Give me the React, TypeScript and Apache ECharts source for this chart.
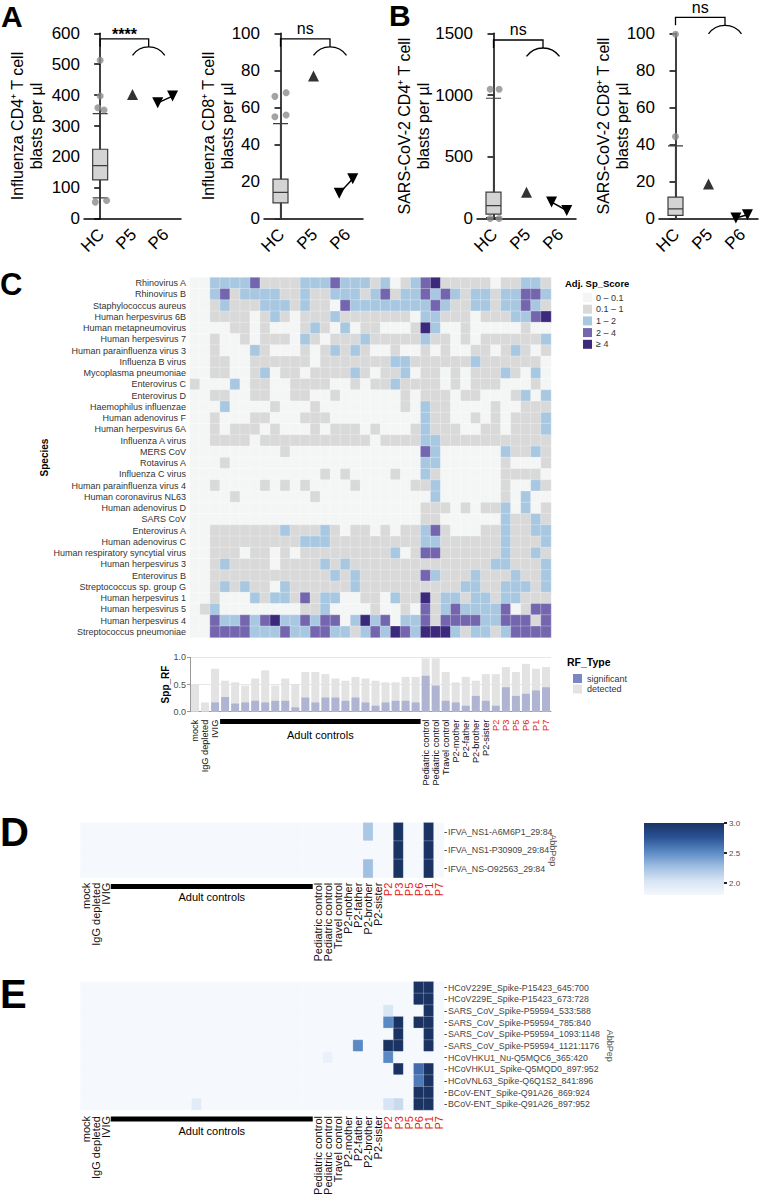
import React, { useEffect, useRef } from "react";
import * as echarts from "echarts";

const FONT = "Liberation Sans, Arial, Helvetica, sans-serif";
const NARROW = "Liberation Sans Narrow, Liberation Sans, Arial, sans-serif";

// ---------- Panels A / B ----------
const groups = ["HC", "P5", "P6"];

const fluCD4Box = [68, 126, 172, 225, 340];
const fluCD4Out = [[0, 513], [0, 397], [-0.07, 359], [0.12, 352], [-0.15, 54], [0.2, 59]];
const fluCD4P5 = [402];
const fluCD4P6 = [[-0.22, 375], [0.24, 397]];

const fluCD8Box = [0, 8.6, 14.2, 21.4, 51.3];
const fluCD8Out = [[-0.17, 66], [0.17, 68], [-0.17, 55], [0.17, 56]];
const fluCD8P5 = [77];
const fluCD8P6 = [[-0.22, 13.8], [0.19, 21.6]];

const covCD4Box = [10, 38, 107, 215, 975];
const covCD4Out = [[-0.1, 1047], [0.17, 1047], [-0.1, 2], [0.17, 2]];
const covCD4P5 = [215];
const covCD4P6 = [[-0.24, 135], [0.22, 67]];

const covCD8Box = [0, 1.8, 5.4, 11.7, 39.3];
const covCD8Out = [[0, 99.5], [0, 44.3]];
const covCD8P5 = [18.7];
const covCD8P6 = [[-0.17, 0.4], [0.18, 2.2]];

// ---------- Panel C ----------
const species = [
  "Rhinovirus A", "Rhinovirus B", "Staphylococcus aureus", "Human herpesvirus 6B",
  "Human metapneumovirus", "Human herpesvirus 7", "Human parainfluenza virus 3",
  "Influenza B virus", "Mycoplasma pneumoniae", "Enterovirus C", "Enterovirus D",
  "Haemophilus influenzae", "Human adenovirus F", "Human herpesvirus 6A",
  "Influenza A virus", "MERS CoV", "Rotavirus A", "Influenza C virus",
  "Human parainfluenza virus 4", "Human coronavirus NL63", "Human adenovirus D",
  "SARS CoV", "Enterovirus A", "Human adenovirus C", "Human respiratory syncytial virus",
  "Human herpesvirus 3", "Enterovirus B", "Streptococcus sp. group G",
  "Human herpesvirus 1", "Human herpesvirus 5", "Human herpesvirus 4",
  "Streptococcus pneumoniae",
];

const sampleLabels = [
  "mock", "IgG depleted", "IVIG",
  "", "", "", "", "", "", "", "", "", "", "", "", "", "", "", "", "", "", "", "",
  "Pediatric control", "Pediatric control", "Travel control", "P2-mother", "P2-father",
  "P2-brother", "P2-sister", "P2", "P3", "P5", "P6", "P1", "P7",
];
const firstPatientCol = 30;
const sampleIds = sampleLabels.map((_, i) => "s" + i);

// Adj. Sp_Score bins: 0 "0-0.1", 1 "0.1-1", 2 "1-2", 3 "2-4", 4 ">=4"
const scoreBins = ["0 – 0.1", "0.1 – 1", "1 – 2", "2 – 4", "≥ 4"];
const scoreColors = ["#f4f6f6", "#d9d9d9", "#a8c8e2", "#7466ae", "#3b2a7b"];

const adjSpScore = [
  [0,0,2,2,2,2,3,1,1,1,1,2,2,2,3,2,2,2, 1,2,0,1,2,3,4,1,1,1,1,1,0,1,1,2,2,1],
  [0,0,2,3,1,2,2,2,2,1,1,2,1,1,2,2,2,1, 2,3,1,2,2,3,2,3,2,1,2,2,1,2,2,3,3,2],
  [0,0,1,2,1,1,1,2,2,2,1,2,1,1,0,3,2,2, 2,2,2,2,2,2,3,2,1,1,2,2,1,2,2,3,2,1],
  [0,0,1,1,1,1,0,1,2,1,0,1,1,1,2,1,1,1, 1,1,1,1,0,2,2,1,1,1,0,1,1,1,2,2,3,4],
  [0,0,0,0,1,1,0,1,0,0,0,1,2,1,0,2,0,1, 1,0,0,0,1,4,2,0,0,1,0,0,0,0,0,1,0,0],
  [0,0,1,0,0,1,0,1,1,1,0,2,1,0,1,1,1,2, 1,1,1,1,1,2,1,1,0,1,0,1,1,1,1,1,1,2],
  [0,0,1,0,0,0,2,1,0,0,0,1,0,1,2,1,2,1, 0,0,1,0,0,1,0,1,0,0,1,1,0,1,2,1,0,1],
  [0,0,1,1,0,0,1,1,1,1,1,1,0,1,1,1,1,1, 1,1,2,2,1,1,1,1,1,1,2,1,1,1,1,1,1,0],
  [0,0,1,1,0,0,1,2,0,1,1,0,1,1,1,1,2,1, 0,1,1,2,0,1,1,0,1,0,1,1,1,2,1,0,2,0],
  [1,0,0,0,2,0,1,1,0,0,1,1,1,1,0,0,1,0, 1,1,2,1,1,1,1,0,1,0,1,1,1,0,0,0,1,0],
  [0,0,1,1,0,0,1,1,0,0,1,1,0,0,1,0,0,0, 0,0,0,1,0,1,1,1,0,1,1,0,0,0,1,2,0,2],
  [0,0,0,2,0,0,0,0,1,0,0,0,1,0,0,0,0,0, 0,0,0,1,0,2,1,1,0,0,0,0,1,0,0,1,1,1],
  [0,0,1,0,0,0,1,1,0,0,0,1,1,1,0,0,0,0, 0,0,0,0,0,2,1,1,0,0,1,0,1,0,1,1,1,2],
  [0,0,1,0,1,1,1,0,1,0,0,0,1,0,1,1,1,0, 1,0,0,0,1,2,1,1,1,0,0,1,1,0,1,1,1,2],
  [0,0,1,1,1,1,0,1,1,1,1,1,1,1,1,1,1,1, 0,1,1,1,1,2,2,1,1,1,1,1,1,1,1,1,1,1],
  [0,0,0,0,0,0,0,0,0,1,0,0,0,0,0,0,0,0, 0,0,0,0,0,3,2,0,0,0,0,0,0,2,1,1,2,1],
  [0,0,0,1,0,0,0,0,0,0,0,0,0,0,0,0,0,0, 0,0,0,0,0,2,2,0,0,0,0,0,0,1,0,0,0,1],
  [0,0,0,0,0,0,0,0,0,0,0,0,0,1,0,1,0,0, 0,0,1,0,0,2,1,0,0,0,0,0,0,1,1,1,1,0],
  [0,0,1,0,0,0,0,1,0,1,0,1,0,0,0,0,1,0, 0,0,0,0,1,1,2,0,0,0,0,0,0,1,0,0,2,1],
  [0,0,0,0,1,0,0,0,0,0,0,0,1,0,0,0,0,0, 0,0,0,0,0,0,2,0,0,0,0,0,0,1,0,2,0,0],
  [0,0,0,0,0,0,0,0,0,0,0,0,0,0,0,0,0,0, 0,0,0,0,0,1,1,1,0,1,0,1,1,2,0,2,0,1],
  [0,0,0,0,0,0,0,0,0,0,0,0,0,0,0,0,0,0, 0,0,0,0,0,1,1,0,0,0,0,0,0,2,1,1,2,1],
  [0,0,1,1,1,1,1,1,1,2,1,1,1,2,1,0,1,1, 0,1,0,1,1,2,3,1,0,0,0,1,1,2,1,1,2,2],
  [0,0,1,1,1,1,1,1,1,1,1,2,2,2,1,1,1,1, 1,1,1,1,1,2,2,1,1,1,1,1,1,2,1,1,1,2],
  [0,0,1,1,1,0,1,1,0,1,0,1,1,1,1,1,1,1, 1,1,2,0,1,3,3,1,1,1,1,1,1,2,1,1,2,1],
  [0,0,1,2,1,1,1,1,0,1,1,1,1,2,1,2,1,1, 1,1,1,1,1,1,1,1,1,1,1,1,2,2,1,1,1,2],
  [0,0,1,1,1,1,1,1,1,1,1,1,1,1,2,1,2,1, 1,1,1,1,1,3,2,1,1,1,2,1,1,1,2,1,1,2],
  [0,0,1,2,1,2,1,1,0,2,1,1,1,1,1,1,2,1, 1,1,1,1,1,1,1,1,1,2,2,1,1,2,2,2,1,2],
  [0,0,1,0,0,0,2,1,2,2,1,3,1,2,2,0,0,1, 1,0,2,1,1,4,1,2,2,1,2,2,1,2,2,1,1,1],
  [0,1,2,0,0,0,0,0,0,0,0,1,1,2,0,0,0,0, 1,0,0,1,0,3,1,2,3,2,2,2,2,3,0,1,3,3],
  [0,0,3,2,2,3,2,3,4,2,2,3,2,3,3,0,2,4, 2,3,0,2,2,3,1,3,3,3,3,2,2,3,3,3,1,3],
  [0,0,3,3,3,3,2,2,2,3,2,2,3,3,2,2,1,2, 3,2,4,3,2,4,4,4,2,1,2,2,1,2,3,3,3,3],
];

const detectedRF = [0.5, 0.17, 0.79, 0.57, 0.54, 0.48, 0.61, 0.76, 0.48, 0.61, 0.51, 0.73, 0.73, 0.69, 0.61, 0.57, 0.64, 0.61, 0.57,
  0.54, 0.54, 0.64, 0.64, 0.98, 0.98, 0.73, 0.54, 0.64, 0.57, 0.69, 0.69, 0.82, 0.73, 0.88, 0.79, 0.82];
const significantRF = [0, 0, 0.17, 0.27, 0.15, 0.17, 0.2, 0.17, 0.2, 0.2, 0.08, 0.26, 0.17, 0.26, 0.26, 0.2, 0.26, 0.17, 0.11,
  0.17, 0.2, 0.2, 0.17, 0.66, 0.48, 0.2, 0.17, 0.11, 0.29, 0.2, 0.11, 0.45, 0.29, 0.33, 0.39, 0.45];

// ---------- Panels D / E ----------
const abbBase = 1.8;
const blues = ["#f5f8fd", "#d6e4f3", "#9dbde0", "#5a89c4", "#2a5294", "#1a3363"];
const dPeptides = ["IFVA_NS1-A6M6P1_29:84", "IFVA_NS1-P30909_29:84", "IFVA_NS-O92563_29:84"];
const dCells = [
  [0, 28, 2.22], [0, 31, 3.0], [0, 34, 3.0],
  [1, 31, 3.0], [1, 34, 3.0],
  [2, 28, 2.26], [2, 31, 3.0], [2, 34, 3.0],
];
const ePeptides = [
  "HCoV229E_Spike-P15423_645:700", "HCoV229E_Spike-P15423_673:728", "SARS_CoV_Spike-P59594_533:588",
  "SARS_CoV_Spike-P59594_785:840", "SARS_CoV_Spike-P59594_1093:1148", "SARS_CoV_Spike-P59594_1121:1176",
  "HCoVHKU1_Nu-Q5MQC6_365:420", "HCoVHKU1_Spike-Q5MQD0_897:952", "HCoVNL63_Spike-Q6Q1S2_841:896",
  "BCoV-ENT_Spike-Q91A26_869:924", "BCoV-ENT_Spike-Q91A26_897:952",
];
const eCells = [
  [0, 33, 3.0], [0, 34, 3.0],
  [1, 33, 3.0], [1, 34, 3.0],
  [2, 30, 2.02], [2, 34, 3.0],
  [3, 30, 2.52], [3, 31, 3.0], [3, 33, 3.0], [3, 34, 3.0],
  [4, 31, 3.0], [4, 34, 3.0],
  [5, 27, 2.52], [5, 30, 3.0], [5, 31, 3.0], [5, 34, 3.0],
  [6, 24, 1.88], [6, 30, 2.52],
  [7, 31, 3.0], [7, 33, 2.64], [7, 34, 3.0],
  [8, 33, 2.58], [8, 34, 3.0],
  [9, 33, 3.0], [9, 34, 3.0],
  [10, 11, 1.95], [10, 30, 2.04], [10, 31, 2.1], [10, 33, 3.0], [10, 34, 3.0],
];

// ---------- layout ----------
const boxPanels = [
  { box: fluCD4Box, out: fluCD4Out, p5: fluCD4P5, p6: fluCD4P6, max: 600, interval: 100,
    name: "Influenza CD4⁺ T cell\nblasts per µl", left: 84, width: 97, nameGap: 38, sig: "****", sigY: 582 },
  { box: fluCD8Box, out: fluCD8Out, p5: fluCD8P5, p6: fluCD8P6, max: 100, interval: 20,
    name: "Influenza CD8⁺ T cell\nblasts per µl", left: 264, width: 99, nameGap: 27, sig: "ns", sigY: 97 },
  { box: covCD4Box, out: covCD4Out, p5: covCD4P5, p6: covCD4P6, max: 1500, interval: 500,
    name: "SARS-CoV-2 CD4⁺ T cell\nblasts per µl", left: 477, width: 99, nameGap: 44, sig: "ns", sigY: 1446 },
  { box: covCD8Box, out: covCD8Out, p5: covCD8P5, p6: covCD8P6, max: 100, interval: 20,
    name: "SARS-CoV-2 CD8⁺ T cell\nblasts per µl", left: 659, width: 99, nameGap: 27, sig: "ns", sigY: 108.6 },
];
const BOX_TOP = 33.3, BOX_H = 185.5;
const C_GRID = { left: 190, top: 277.5, width: 361, height: 360 };
const BAR_GRID = { left: 190, top: 657.3, width: 361, height: 54.4 };
const D_GRID = { left: 80.5, top: 822.7, width: 363.5, height: 55 };
const E_GRID = { left: 80.5, top: 981.7, width: 363.5, height: 128.3 };

const labelColor = (_v: any, i: number) => (i >= firstPatientCol ? "#e41a1c" : "#111");
const labelFmt = (_v: any, i: number) => sampleLabels[i];

function fullGrid(rows: number, cells: number[][]) {
  const out: number[][] = [];
  for (let r = 0; r < rows; r++) for (let c = 0; c < sampleLabels.length; c++) out.push([c, r, abbBase]);
  cells.forEach(([r, c, v]) => { out[r * sampleLabels.length + c] = [c, r, v]; });
  return out;
}

function buildOption(): any {
  const grids: any[] = boxPanels.map((p) => ({ left: p.left, top: BOX_TOP, width: p.width, height: BOX_H }));
  grids.push(C_GRID, BAR_GRID, D_GRID, E_GRID);

  const xAxis: any[] = [];
  const yAxis: any[] = [];
  const series: any[] = [];
  boxPanels.forEach((p, k) => {
    xAxis.push({
      type: "category", gridIndex: k, data: groups,
      axisLine: { lineStyle: { color: "#000", width: 1.5 } },
      axisTick: { alignWithLabel: true, interval: 0, length: 7, lineStyle: { color: "#000", width: 1.5 } },
      // labels are drawn rotated 45° in the graphic layer (see buildGraphic)
      axisLabel: { show: false, interval: 0 },
    });
    xAxis.push({ type: "value", gridIndex: k, min: -0.5, max: 2.5, show: false });
    yAxis.push({
      type: "value", gridIndex: k, min: 0, max: p.max, interval: p.interval,
      axisLine: { show: true, lineStyle: { color: "#000", width: 1.5 } },
      axisTick: { show: true, length: 6, lineStyle: { color: "#000", width: 1.5 } },
      axisLabel: { fontSize: 17, color: "#000", margin: 4, fontFamily: FONT, formatter: (v: number) => String(v) },
      splitLine: { show: false },
      name: p.name, nameLocation: "middle", nameRotate: 90, nameGap: p.nameGap, nameMoveOverlap: false,
      nameTextStyle: { fontSize: 16, color: "#000", lineHeight: 19, fontFamily: FONT },
    });
    series.push(
      { type: "boxplot", xAxisIndex: 2 * k, yAxisIndex: k, data: [p.box], boxWidth: [15, 15], silent: true,
        itemStyle: { color: "#d4d4d4", borderColor: "#3c3c3c", borderWidth: 1.2 } },
      { type: "scatter", xAxisIndex: 2 * k + 1, yAxisIndex: k, data: p.out, symbol: "circle", symbolSize: 7,
        itemStyle: { color: "#8c8c8c" } },
      { type: "scatter", xAxisIndex: 2 * k + 1, yAxisIndex: k, data: p.p5.map((v) => [1, v]), symbol: "triangle",
        symbolSize: 11, itemStyle: { color: "#000" } },
      { type: "line", xAxisIndex: 2 * k + 1, yAxisIndex: k, data: p.p6.map(([dx, v]) => [2 + dx, v]),
        symbol: "triangle", symbolRotate: 180, symbolSize: 11, lineStyle: { color: "#000", width: 1.5 },
        itemStyle: { color: "#000" } },
    );
  });

  // C heatmap x (8), bar x (9), D x (10), E x (11)
  xAxis.push({
    type: "category", gridIndex: 4, data: sampleIds, axisLine: { show: false },
    axisTick: { alignWithLabel: true, interval: 0, length: 4, lineStyle: { color: "#888" } },
    axisLabel: { show: false, interval: 0 }, splitLine: { show: false },
  });
  xAxis.push({
    type: "category", gridIndex: 5, data: sampleIds,
    axisLine: { lineStyle: { color: "#999" } },
    axisTick: { alignWithLabel: true, interval: 0, length: 4, lineStyle: { color: "#999" } },
    axisLabel: { interval: 0, rotate: 90, fontSize: 9.2, margin: 8, formatter: labelFmt, color: labelColor, fontFamily: FONT },
  });
  [6, 7].forEach((g, j) => xAxis.push({
    type: "category", gridIndex: g, data: sampleIds, axisLine: { show: false }, axisTick: { show: false },
    axisLabel: { interval: 0, rotate: 90, fontSize: 11, margin: j === 0 ? 5 : 6, formatter: labelFmt, color: labelColor, fontFamily: FONT },
  }));

  yAxis.push({
    type: "category", gridIndex: 4, data: species, inverse: true, axisLine: { show: false },
    axisTick: { alignWithLabel: true, interval: 0, length: 3, lineStyle: { color: "#888" } },
    axisLabel: { interval: 0, fontSize: 9, color: "#333", margin: 4, fontFamily: FONT },
    name: "Species", nameLocation: "middle", nameRotate: 90, nameGap: 141, nameMoveOverlap: false,
    nameTextStyle: { fontSize: 10, fontWeight: "bold", color: "#000", fontFamily: FONT },
  });
  yAxis.push({
    type: "value", gridIndex: 5, min: 0, max: 1, interval: 0.5,
    axisLine: { show: true, lineStyle: { color: "#999" } },
    axisTick: { show: true, length: 3, lineStyle: { color: "#999" } },
    axisLabel: { fontSize: 9, color: "#4d4d4d", margin: 4, formatter: (v: number) => v.toFixed(1), fontFamily: FONT },
    splitLine: { show: true, lineStyle: { color: "#e6e6e6" } },
    name: "Spp_RF", nameLocation: "middle", nameRotate: 90, nameGap: 20, nameMoveOverlap: false,
    nameTextStyle: { fontSize: 10, fontWeight: "bold", color: "#000", fontFamily: FONT },
  });
  [[6, dPeptides, 104], [7, ePeptides, 161]].forEach(([g, peps, gap]: any) => yAxis.push({
    type: "category", gridIndex: g, data: peps, inverse: true, position: "right",
    axisLine: { show: false },
    axisTick: { show: true, alignWithLabel: true, interval: 0, length: 3, lineStyle: { color: "#555" } },
    axisLabel: { interval: 0, fontSize: 8.8, color: "#444", margin: 4, fontFamily: NARROW },
    name: "AbbPep", nameLocation: "middle", nameRotate: -90, nameGap: gap, nameMoveOverlap: false,
    nameTextStyle: { fontSize: 9, color: "#555", fontFamily: NARROW },
  }));

  const heatData: number[][] = [];
  adjSpScore.forEach((row, r) => row.forEach((v, c) => heatData.push([c, r, v])));

  series.push(
    { type: "heatmap", xAxisIndex: 8, yAxisIndex: 4, data: heatData,
      itemStyle: { borderColor: "rgba(255,255,255,0.55)", borderWidth: 0.5 } },
    { type: "bar", name: "detected", xAxisIndex: 9, yAxisIndex: 5, data: detectedRF, barWidth: "80%", barGap: "-100%",
      itemStyle: { color: "#e3e3e3" } },
    { type: "bar", name: "significant", xAxisIndex: 9, yAxisIndex: 5, data: significantRF, barWidth: "80%", barGap: "-100%",
      itemStyle: { color: "#7b86c4", opacity: 0.5 } },
    { type: "heatmap", xAxisIndex: 10, yAxisIndex: 6, data: fullGrid(dPeptides.length, dCells),
      itemStyle: { borderColor: "rgba(255,255,255,0.6)", borderWidth: 0.4 } },
    { type: "heatmap", xAxisIndex: 11, yAxisIndex: 7, data: fullGrid(ePeptides.length, eCells),
      itemStyle: { borderColor: "rgba(255,255,255,0.6)", borderWidth: 0.4 } },
  );

  return {
    animation: false,
    backgroundColor: "#fff",
    textStyle: { fontFamily: FONT },
    grid: grids,
    xAxis, yAxis, series,
    visualMap: [
      { type: "piecewise", seriesIndex: 16, dimension: 2, orient: "vertical", left: 568, top: 278, align: "left",
        pieces: scoreBins.map((label, i) => ({ value: i, label, color: scoreColors[i] })),
        itemWidth: 9, itemHeight: 9, itemGap: 2.7, textGap: 4, itemSymbol: "rect", selectedMode: false,
        hoverLink: false, inverse: true, textStyle: { fontSize: 9, color: "#333", fontFamily: FONT } },
      { type: "continuous", seriesIndex: [19, 20], dimension: 2, min: abbBase, max: 3.0, show: false,
        inRange: { color: blues } },
    ],
    legend: {
      data: [{ name: "significant", itemStyle: { color: "#7b86c4", opacity: 1 } }, { name: "detected" }],
      orient: "vertical", left: 568, top: 669, itemWidth: 9, itemHeight: 9, itemGap: 1.5, icon: "rect",
      selectedMode: false, textStyle: { fontSize: 9, color: "#333", fontFamily: FONT },
    },
  };
}

function buildGraphic(chart: any): any[] {
  const els: any[] = [];
  const txt = (x: number, y: number, text: string, font: string, align = "left", va = "top", fill = "#000", rotation = 0) => ({
    type: "text", x, y, rotation,
    style: { text, font, fill, align, verticalAlign: va, textAlign: align, textVerticalAlign: va },
  });
  // panel letters
  els.push(txt(1, 1, "A", `900 30px ${FONT}`));
  els.push(txt(389, 0, "B", `900 30px ${FONT}`));
  els.push(txt(0, 269, "C", `900 31px ${FONT}`));
  els.push(txt(0, 812, "D", `bold 40px ${NARROW}`));
  els.push(txt(0, 974, "E", `bold 40px ${NARROW}`));

  boxPanels.forEach((p, k) => {
    const s = 4 * k + 1;
    // rotated group labels under each box panel
    groups.forEach((g, i) => {
      const [gx, gy] = chart.convertToPixel({ seriesIndex: s }, [i, 0]);
      els.push(txt(gx + 1, gy + 13, g, `17px ${FONT}`, "right", "middle", "#000", Math.PI / 4));
    });
    // significance brackets
    const [hcX, yL] = chart.convertToPixel({ seriesIndex: s }, [0, p.sigY]);
    const [p5X] = chart.convertToPixel({ seriesIndex: s }, [1, p.sigY]);
    const [p6X] = chart.convertToPixel({ seriesIndex: s }, [2, p.sigY]);
    const mid = (p5X + p6X) / 2, h = (p6X - p5X) / 2, sag = 8.5, drop = 8;
    els.push({ type: "polyline", shape: { points: [[hcX, yL + drop], [hcX, yL], [mid, yL], [mid, yL + drop]] },
      style: { stroke: "#000", lineWidth: 1.3, fill: "none" } });
    const r = (h * h + sag * sag) / (2 * sag);
    const cy = yL + drop + r;
    els.push({ type: "arc", shape: { cx: mid, cy, r, startAngle: Math.atan2(sag - r, -h), endAngle: Math.atan2(sag - r, h), clockwise: true },
      style: { stroke: "#000", lineWidth: 1.3, fill: "none" } });
    els.push(txt((hcX + mid) / 2, p.sig === "****" ? yL + 4 : yL - 2, p.sig,
      `${p.sig === "****" ? "bold " : ""}16px ${FONT}`, "center", "bottom"));
  });

  // Legends titles
  els.push(txt(565, 283, "Adj. Sp_Score", `bold 9.5px ${FONT}`, "left", "middle"));
  els.push(txt(567, 662, "RF_Type", `bold 10.5px ${FONT}`, "left", "middle"));

  // Adult controls bars
  const adult = (g: any, barTop: number, textY: number) => {
    const w = g.width / sampleLabels.length;
    const x0 = g.left + 3 * w, x1 = g.left + 23 * w;
    els.push({ type: "rect", shape: { x: x0, y: barTop, width: x1 - x0, height: 5 }, style: { fill: "#000" } });
    els.push(txt((x0 + x1) / 2, textY, "Adult controls", `11px ${FONT}`, "center", "middle"));
  };
  adult(BAR_GRID, 719, 735);
  adult(D_GRID, 884, 897);
  adult(E_GRID, 1116.5, 1131);

  // D colour bar
  const cbTop = 823, cbH = 72, cbX = 644, cbW = 80;
  const stops = blues.map((c, i) => ({ offset: 1 - i / (blues.length - 1), color: c }));
  els.push({ type: "rect", shape: { x: cbX, y: cbTop, width: cbW, height: cbH },
    style: { fill: new echarts.graphic.LinearGradient(0, 0, 0, 1, stops.slice().reverse()) } });
  [3.0, 2.5, 2.0].forEach((v) => {
    const y = cbTop + ((3.0 - v) / (3.0 - abbBase)) * cbH;
    els.push({ type: "rect", shape: { x: cbX + cbW, y: y - 1, width: 3, height: 2 }, style: { fill: "#222" } });
    els.push(txt(cbX + cbW + 5, y, v.toFixed(1), `8px ${NARROW}`, "left", "middle", "#4d4d4d"));
  });
  return els;
}

export default function App() {
  const ref = useRef<HTMLDivElement>(null);
  useEffect(() => {
    const chart = echarts.init(ref.current as HTMLDivElement, null, { renderer: "svg" });
    chart.setOption(buildOption());
    chart.setOption({ graphic: { elements: buildGraphic(chart) } });
    return () => chart.dispose();
  }, []);
  return <div ref={ref} style={{ position: "absolute", left: 0, top: 0, width: 759, height: 1198 }} />;
}
